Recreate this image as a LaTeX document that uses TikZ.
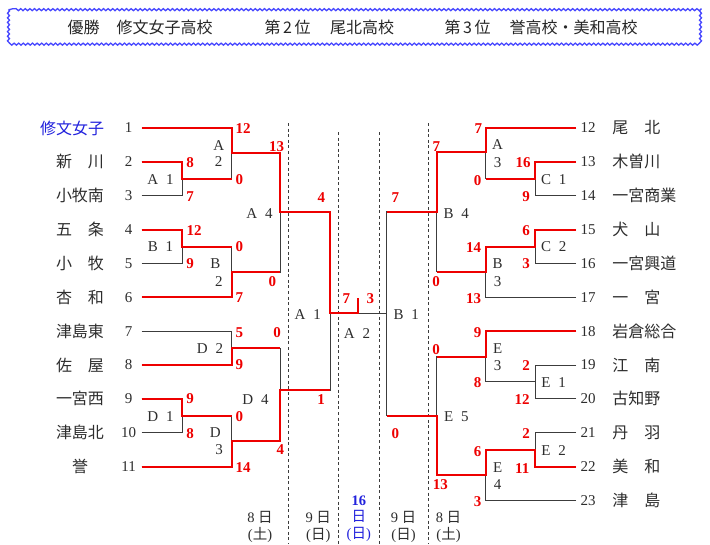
\documentclass[tikz,border=0pt]{standalone}
\usepackage{fontspec}
\setmainfont{Liberation Serif}
\newfontfamily\cjk{Noto Sans CJK JP}
\newfontfamily\lbl[WordSpace=2.1]{Liberation Serif}
\usetikzlibrary{decorations.pathmorphing}
\definecolor{winred}{RGB}{238,0,0}
\definecolor{tblue}{RGB}{34,34,221}
\definecolor{fblue}{RGB}{70,70,255}
\definecolor{ln}{RGB}{60,60,60}
\definecolor{txt}{RGB}{45,45,45}
\newcommand\zw{\char"3000\relax}
\begin{document}
\begin{tikzpicture}[x=1pt,y=-1pt,
  every node/.style={inner sep=0pt, outer sep=0pt},
  loseline/.style={draw=ln, line width=0.9pt},
  winline/.style={draw=winred, line width=2pt},
  sepline/.style={draw=ln, line width=0.8pt, dash pattern=on 3pt off 2.6pt},
  tname/.style={font=\cjk\fontsize{16}{17}\selectfont, text=txt},
  hdtext/.style={font=\cjk\fontsize{16}{17}\selectfont, text=black!85},
  numtext/.style={font=\fontsize{15}{16}\selectfont, text=txt},
  sctext/.style={font=\bfseries\fontsize{15}{16}\selectfont, text=winred},
  mlab/.style={font=\lbl\fontsize{15}{16}\selectfont, text=txt},
  dlab/.style={font=\fontsize{14.5}{16.5}\selectfont, text=txt, align=center, anchor=north},
  hdframe/.style={draw=fblue, line width=1.3pt, decorate,
    decoration={snake, amplitude=1pt, segment length=4.6pt}}
]
\fill[white] (0,0) rectangle (710,544);
\useasboundingbox (0,0) rectangle (710,544);

% ---- header
\draw[hdframe] (8.5,9.5) rectangle (699,42.3);
\node[hdtext, anchor=west] (h1) at (67.5,27.5) {優勝};
\node[hdtext, anchor=west] (h2) at (116.5,27.5) {修文女子高校};
\node[hdtext, anchor=west] (h3) at (264.5,27.5) {第\,2\,位};
\node[hdtext, anchor=west] (h4) at (330,27.5) {尾北高校};
\node[hdtext, anchor=west] (h5) at (444.5,27.5) {第\,3\,位};
\node[hdtext, anchor=west] (h6) at (509.5,27.5) {誉高校・美和高校};

% ---- separators
\coordinate (s1a) at (288.3,123); \coordinate (s1b) at (288.3,544);
\coordinate (s2a) at (338.3,132); \coordinate (s2b) at (338.3,544);
\coordinate (s3a) at (379,132);   \coordinate (s3b) at (379,544);
\coordinate (s4a) at (428.3,123); \coordinate (s4b) at (428.3,544);
\foreach \k in {1,...,4} \draw[sepline] (s\k a) -- (s\k b);

% ---- team line ends and numbers
\foreach \i in {1,...,11}{
  \coordinate (t\i) at (141.7,{128+(\i-1)*33.85});
  \node[numtext] (n\i) at (128.7,{128+(\i-1)*33.85}) {\i};
}
\foreach \j in {12,...,23}{
  \coordinate (t\j) at (576,{128+(\j-12)*33.85});
  \node[numtext] (n\j) at (588,{128+(\j-12)*33.85}) {\j};
}

% ---- names
\node[tname, anchor=east, text=tblue] (p1) at (104,128) {修文女子};
\node[tname, anchor=east] (p2) at (104,161.85) {新\zw 川};
\node[tname, anchor=east] (p3) at (104,195.7) {小牧南};
\node[tname, anchor=east] (p4) at (104,229.55) {五\zw 条};
\node[tname, anchor=east] (p5) at (104,263.4) {小\zw 牧};
\node[tname, anchor=east] (p6) at (104,297.25) {杏\zw 和};
\node[tname, anchor=east] (p7) at (104,331.1) {津島東};
\node[tname, anchor=east] (p8) at (104,364.95) {佐\zw 屋};
\node[tname, anchor=east] (p9) at (104,398.8) {一宮西};
\node[tname, anchor=east] (p10) at (104,432.65) {津島北};
\node[tname] (p11) at (80,466.5) {誉};
\node[tname, anchor=west] (p12) at (612.3,128) {尾\zw 北};
\node[tname, anchor=west] (p13) at (612.3,161.85) {木曽川};
\node[tname, anchor=west] (p14) at (612.3,195.7) {一宮商業};
\node[tname, anchor=west] (p15) at (612.3,229.55) {犬\zw 山};
\node[tname, anchor=west] (p16) at (612.3,263.4) {一宮興道};
\node[tname, anchor=west] (p17) at (612.3,297.25) {一\zw 宮};
\node[tname, anchor=west] (p18) at (612.3,331.1) {岩倉総合};
\node[tname, anchor=west] (p19) at (612.3,364.95) {江\zw 南};
\node[tname, anchor=west] (p20) at (612.3,398.8) {古知野};
\node[tname, anchor=west] (p21) at (612.3,432.65) {丹\zw 羽};
\node[tname, anchor=west] (p22) at (612.3,466.5) {美\zw 和};
\node[tname, anchor=west] (p23) at (612.3,500.35) {津\zw 島};

% ---- match points
\coordinate (mA1) at (182,178.8);
\coordinate (mA2) at (231.7,152.5);
\coordinate (mB1) at (182,246.5);
\coordinate (mB2) at (231.7,272);
\coordinate (mA4) at (280,211.7);
\coordinate (mD2) at (231.7,348);
\coordinate (mD1) at (182,415.7);
\coordinate (mD3) at (231.7,441);
\coordinate (mD4) at (280,390);
\coordinate (mSA) at (330,313.3);
\coordinate (mF)  at (358.3,313.3);
\coordinate (fT)  at (358.3,297.7);
\coordinate (mSB) at (386.7,313.3);
\coordinate (mB4) at (436.7,211.7);
\coordinate (mA3) at (485.7,152.3);
\coordinate (mC1) at (535,178.8);
\coordinate (mC2) at (535,246.5);
\coordinate (mB3) at (485.7,271.9);
\coordinate (mE5) at (436.7,415.7);
\coordinate (mE3) at (485.7,356.5);
\coordinate (mE1) at (535,381.9);
\coordinate (mE2) at (535,449.6);
\coordinate (mE4) at (485.7,475);

% ---- grey bracket
\foreach \a/\b in {t1/mA2, t2/mA1, t3/mA1, mA1/mA2, t4/mB1, t5/mB1, mB1/mB2, t6/mB2,
  mA2/mA4, mB2/mA4, t7/mD2, t8/mD2, t9/mD1, t10/mD1, mD1/mD3, t11/mD3, mD2/mD4, mD3/mD4,
  mA4/mSA, mD4/mSA, mSA/mF, mSB/mF,
  t12/mA3, t13/mC1, t14/mC1, mC1/mA3, t15/mC2, t16/mC2, mC2/mB3, t17/mB3, mA3/mB4, mB3/mB4,
  mB4/mSB, t18/mE3, t19/mE1, t20/mE1, mE1/mE3, t21/mE2, t22/mE2, mE2/mE4, t23/mE4,
  mE3/mE5, mE4/mE5, mE5/mSB}
  \draw[loseline] (\a) -| (\b);

% ---- red winners
\draw[winline] (t1) -| (mA2) -| (mA4) -| (mSA) -- (mF) -- (fT);
\draw[winline] (t2) -| (mA1) -- (mA1 -| mA2);
\draw[winline] (t4) -| (mB1) -- (mB1 -| mB2);
\draw[winline] (t6) -| (mB2) -- (mB2 -| mA4);
\draw[winline] (t8) -| (mD2) -- (mD2 -| mD4);
\draw[winline] (t9) -| (mD1) -- (mD1 -| mD3);
\draw[winline] (t11) -| (mD3) -| (mD4) -- (mD4 -| mSA);
\draw[winline] (t12) -| (mA3) -| (mB4) -- (mB4 -| mSB);
\draw[winline] (t13) -| (mC1) -- (mC1 -| mA3);
\draw[winline] (t15) -| (mC2) -| (mB3) -- (mB3 -| mB4);
\draw[winline] (t18) -| (mE3) -- (mE3 -| mE5);
\draw[winline] (t22) -| (mE2) -| (mE4) -| (mE5) -- (mE5 -| mSB);

% ---- scores
\foreach \x/\y/\t [count=\k] in {
  243/128.7/12, 276.7/146.2/13, 190/162.5/8, 239.3/179.5/0, 190/196.7/7,
  194/230.3/12, 239.3/247/0, 190/263.3/9, 272.3/281.3/0, 239.3/297.3/7,
  239.3/332.3/5, 277/332.8/0, 239.3/365/9, 190/399/9, 239.3/416.7/0,
  190/434/8, 280.3/450/4, 243/467.3/14,
  321.3/197.2/4, 321/399.5/1, 346.3/298.3/7, 370.3/298.3/3, 395.3/197.3/7, 395.3/433.8/0,
  436.3/146.5/7, 478.3/129/7, 523/162.8/16, 477.5/180.3/0, 526/196.7/9,
  526/230.7/6, 473.7/247.7/14, 526/264/3, 436/281.7/0, 473.7/298.3/13,
  477.5/332.3/9, 436/349.2/0, 526/366/2, 477.5/382.7/8, 522.2/400/12,
  526/434/2, 477.5/451.7/6, 522.2/468.3/11, 440.3/484.3/13, 477.5/501.7/3}
  \node[sctext] (sc\k) at (\x,\y) {\t};

% ---- match labels
\foreach \x/\y/\t/\nm in {
  160.5/179.3/A 1/lA1, 160.5/246.7/B 1/lB1, 210/348.7/D 2/lD2, 160.5/416.7/D 1/lD1,
  259.5/213.8/A 4/lA4, 255.5/399.2/D 4/lD4, 307.8/314.7/A 1/lSA, 357/333.3/A 2/lF,
  406.2/314.7/B 1/lSB, 456.3/214/B 4/lB4, 456.3/416.7/E 5/lE5,
  553.7/180/C 1/lC1, 553.7/246.7/C 2/lC2, 553.7/382.7/E 1/lE1, 553.7/450.3/E 2/lE2,
  218.8/145.3/A/lA2a, 218.5/162/2/lA2b, 215.5/263.8/B/lB2a, 218.8/281.2/2/lB2b,
  215.3/432.8/D/lD3a, 219.2/450/3/lD3b,
  497.5/145/A/lA3a, 497.5/162.5/3/lA3b, 497.5/263.8/B/lB3a, 497.5/281.2/3/lB3b,
  497.7/348.8/E/lE3a, 497.7/365.8/3/lE3b, 497.7/467.2/E/lE4a, 497.7/484.2/4/lE4b}
  \node[mlab] (\nm) at (\x,\y) {\t};

% ---- dates
\node[dlab] (d1) at (260,511.5) {8 {\cjk 日}\\({\cjk 土})};
\node[dlab] (d2) at (318.3,511.5) {9 {\cjk 日}\\({\cjk 日})};
\node[dlab, text=tblue] (d3) at (358.8,495.5) {{\bfseries 16}\\{\cjk 日}\\({\cjk 日})};
\node[dlab] (d4) at (403.5,511.5) {9 {\cjk 日}\\({\cjk 日})};
\node[dlab] (d5) at (448.5,511.5) {8 {\cjk 日}\\({\cjk 土})};
\end{tikzpicture}
\end{document}
